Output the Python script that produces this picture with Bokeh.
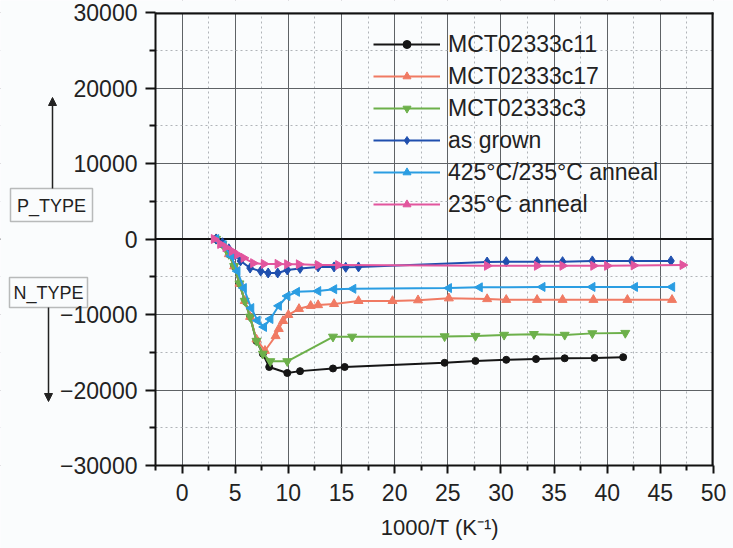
from bokeh.plotting import figure
from bokeh.models import (Range1d, FixedTicker, Span, Label, Arrow, NormalHead, Legend, LegendItem,
                          BoxAnnotation, ColumnDataSource, Scatter)
from bokeh.embed import file_html
from bokeh.resources import INLINE
import math

# ---------------- data ----------------
c11_x = [3.2, 3.8, 4.4, 4.9, 5.4, 5.9, 6.4, 7.0, 7.6, 8.2, 9.9, 11.1, 14.2, 15.3, 24.7, 27.6, 30.5, 33.3, 36.0, 38.8, 41.5]
c11_y = [0, -700, -2000, -3600, -5900, -8200, -10300, -13500, -15200, -16950, -17750, -17500, -17150, -16950,
         -16400, -16150, -16000, -15900, -15800, -15750, -15650]

c17_x = [3.2, 3.8, 4.4, 4.9, 5.4, 5.9, 6.4, 7.0, 7.8, 8.8, 9.1, 9.5, 10.0, 11.0, 12.1, 12.8, 14.3, 16.6, 19.8,
         22.2, 25.1, 28.7, 30.5, 33.4, 35.8, 38.7, 41.9, 46.1]
c17_y = [0, -700, -2000, -3600, -5900, -8200, -10300, -13300, -14800, -12850, -11900, -10850, -10050, -9250,
         -8850, -8750, -8600, -8200, -8200, -8100, -7850, -7950, -8050, -8050, -8050, -8050, -8050, -8050]

c3_x = [3.2, 3.8, 4.4, 4.9, 5.4, 5.9, 6.4, 7.0, 7.6, 8.3, 9.9, 14.2, 16.0, 24.7, 27.6, 30.3, 33.1, 36.0, 38.6, 41.7]
c3_y = [0, -700, -2000, -3600, -5900, -8200, -10300, -13500, -15200, -16200, -16200, -12950, -12950, -12900,
        -12850, -12700, -12600, -12700, -12500, -12450]

grown_x = [3.2, 3.8, 4.4, 5.0, 5.5, 6.4, 7.4, 8.1, 9.0, 9.9, 11.1, 12.8, 14.3, 15.4, 16.6, 28.7, 30.5, 33.4,
           35.8, 38.6, 42.3, 46.0]
grown_y = [0, -500, -1300, -2100, -2900, -3850, -4250, -4500, -4500, -4100, -3900, -3700, -3700, -3750, -3700,
           -3050, -3000, -3000, -3000, -2900, -2900, -2900]

a425_x = [3.2, 3.9, 4.6, 5.2, 5.8, 6.5, 7.1, 7.7, 8.3, 9.1, 9.9, 10.8, 12.8, 14.3, 16.1, 25.1, 28.0, 33.9, 38.6,
          42.6, 46.1]
a425_y = [0, -800, -2250, -4250, -6500, -9150, -10800, -11650, -10600, -8850, -7550, -7000, -6900, -6650, -6600,
          -6500, -6400, -6350, -6350, -6350, -6350]

a235_x = [3.0, 3.6, 4.1, 4.7, 5.2, 5.8, 6.7, 7.7, 9.0, 9.9, 11.0, 12.8, 14.7, 28.7, 33.4, 35.8, 38.7, 40.0, 42.5, 47.1]
a235_y = [0, -660, -1100, -1600, -2050, -2500, -3200, -3300, -3300, -3350, -3350, -3450, -3450, -3550, -3550,
          -3550, -3550, -3550, -3500, -3450]

series_names = ["MCT02333c11", "MCT02333c17", "MCT02333c3", "as grown", "425°C/235°C anneal", "235°C anneal"]

x_ticks = [0, 5, 10, 15, 20, 25, 30, 35, 40, 45, 50]
x_minor = [-2.5, 2.5, 7.5, 12.5, 17.5, 22.5, 27.5, 32.5, 37.5, 42.5, 47.5]
y_ticks = [-30000, -20000, -10000, 0, 10000, 20000, 30000]
y_minor = [-25000, -15000, -5000, 5000, 15000, 25000]

x_lim = (-2.5, 50)
y_lim = (-30000, 30000)

x_label = "1000/T (K\u207b\u00b9)"

# ---------------- layout constants (pixels) ----------------
W, H = 733, 548
BOX_L, BOX_R, BOX_T, BOX_B = 155, 713, 12, 465   # canvas edges of the plotting box
FONT = "Liberation Sans"
BG = "#fafcfd"
INK = "#222222"

# the frame spans the whole canvas; the axes are pinned at the box edges
xs_per_px = (x_lim[1] - x_lim[0]) / (BOX_R - BOX_L)
ys_per_px = (y_lim[1] - y_lim[0]) / (BOX_B - BOX_T)
x_range = Range1d(x_lim[0] - BOX_L * xs_per_px, x_lim[1] + (W - BOX_R) * xs_per_px)
y_range = Range1d(y_lim[0] - (H - BOX_B) * ys_per_px, y_lim[1] + BOX_T * ys_per_px)

p = figure(width=W, height=H, output_backend="svg", toolbar_location=None,
           x_range=x_range, y_range=y_range,
           min_border_left=0, min_border_right=0, min_border_top=0, min_border_bottom=0)
p.background_fill_color = BG
p.border_fill_color = BG
p.outline_line_color = None

p.xaxis.ticker = FixedTicker(ticks=x_ticks, minor_ticks=x_minor)
p.yaxis.ticker = FixedTicker(ticks=y_ticks, minor_ticks=y_minor)
p.xaxis.fixed_location = y_lim[0]
p.yaxis.fixed_location = x_lim[0]
p.xaxis.bounds = x_lim
p.yaxis.bounds = y_lim
for ax in (p.xaxis[0], p.yaxis[0]):
    ax.axis_line_color = "#111111"
    ax.axis_line_width = 2
    ax.major_tick_in = 0
    ax.minor_tick_in = 0
    ax.major_tick_line_width = 2
    ax.minor_tick_line_width = 2
    ax.major_tick_line_color = "#111111"
    ax.minor_tick_line_color = "#111111"
    ax.major_label_text_font = FONT
    ax.major_label_text_font_size = "23px"
    ax.major_label_text_color = INK
p.xaxis.major_tick_out = 8
p.xaxis.minor_tick_out = 5
p.yaxis.major_tick_out = 10
p.yaxis.minor_tick_out = 6
p.xaxis.major_label_standoff = 10
p.yaxis.major_label_standoff = 8

p.xgrid.ticker = FixedTicker(ticks=x_ticks, minor_ticks=x_minor)
p.ygrid.ticker = FixedTicker(ticks=y_ticks, minor_ticks=y_minor)
for g in (p.xgrid[0], p.ygrid[0]):
    g.grid_line_color = "#5e6266"
    g.grid_line_width = 1
    g.minor_grid_line_color = "#b0b4b8"
    g.minor_grid_line_dash = "2 3"
    g.minor_grid_line_width = 1

# zero line, then covers that hide grid / zero line outside the plotting box
p.add_layout(Span(location=0, dimension="width", line_color="#111111", line_width=2, level="underlay"))
for kw in (dict(right=x_lim[0]), dict(left=x_lim[1]), dict(top=y_lim[0]), dict(bottom=y_lim[1])):
    p.add_layout(BoxAnnotation(fill_color=BG, fill_alpha=1, line_alpha=0, level="underlay", **kw))


def sy(canvas_y):
    return H - canvas_y


# top and right border of the plotting box (2px strips)
p.add_layout(BoxAnnotation(left=x_lim[0], right=x_lim[1], top=y_lim[1], bottom=sy(BOX_T + 2), bottom_units="screen",
                           fill_color="#111111", fill_alpha=1, line_alpha=0))
p.add_layout(BoxAnnotation(left=BOX_R - 2, left_units="screen", right=x_lim[1], bottom=y_lim[0], top=y_lim[1],
                           fill_color="#111111", fill_alpha=1, line_alpha=0))

styles = [
    (c11_x, c11_y, "#151515", "circle", 0.0, 7),
    (c17_x, c17_y, "#f07a63", "triangle", 0.0, 9),
    (c3_x, c3_y, "#6cb04a", "inverted_triangle", 0.0, 9),
    (grown_x, grown_y, "#1f4fae", "diamond", 0.0, 10),
    (a425_x, a425_y, "#2a9de2", "triangle", math.pi / 2, 9),
    (a235_x, a235_y, "#e2559e", "triangle", -math.pi / 2, 9),
]

items = []
for (xs, ys, col, mk, ang, sz), name in zip(styles, series_names):
    src = ColumnDataSource(dict(x=xs, y=ys, a=[ang] * len(xs)))
    r1 = p.line("x", "y", source=src, line_color=col, line_width=2)
    r2 = p.add_glyph(src, Scatter(x="x", y="y", marker=mk, angle="a", size=sz,
                                  fill_color=col, line_color=col))
    items.append(LegendItem(label=name, renderers=[r1, r2]))

# legend: top-left corner at canvas (373, 28); location is its bottom-left, frame-relative
legend = Legend(items=items, location=(373, sy(28 + 6 * 32)), orientation="vertical",
                label_text_font=FONT, label_text_font_size="23px", label_text_color=INK,
                glyph_width=67, glyph_height=20, label_standoff=8, spacing=0, label_height=32,
                padding=0, margin=0, border_line_alpha=0, background_fill_alpha=0)
p.add_layout(legend)

# x axis title
p.add_layout(Label(x=(x_lim[0] + x_lim[1]) / 2 + 0.5, y=sy(527), y_units="screen", text=x_label,
                   text_font=FONT, text_font_size="22px", text_color=INK,
                   text_align="center", text_baseline="middle"))

# P_TYPE / N_TYPE boxes, texts and arrows
p.add_layout(BoxAnnotation(left=10, right=92, top=sy(188), bottom=sy(221),
                           left_units="screen", right_units="screen", top_units="screen", bottom_units="screen",
                           fill_alpha=0, line_color=INK, line_width=1.5))
p.add_layout(BoxAnnotation(left=9, right=87, top=sy(277), bottom=sy(307),
                           left_units="screen", right_units="screen", top_units="screen", bottom_units="screen",
                           fill_alpha=0, line_color=INK, line_width=1.5))
p.add_layout(Label(x=51, y=sy(205), x_units="screen", y_units="screen", text="P_TYPE",
                   text_font=FONT, text_font_size="18px", text_color=INK,
                   text_align="center", text_baseline="middle"))
p.add_layout(Label(x=48, y=sy(292), x_units="screen", y_units="screen", text="N_TYPE",
                   text_font=FONT, text_font_size="18px", text_color=INK,
                   text_align="center", text_baseline="middle"))
p.add_layout(Arrow(end=NormalHead(size=8, fill_color=INK, line_color=INK, line_width=1),
                   x_start=52, y_start=sy(188), x_end=52, y_end=sy(97),
                   start_units="screen", end_units="screen", line_color=INK, line_width=1.5))
p.add_layout(Arrow(end=NormalHead(size=8, fill_color=INK, line_color=INK, line_width=1),
                   x_start=48, y_start=sy(307), x_end=48, y_end=sy(401),
                   start_units="screen", end_units="screen", line_color=INK, line_width=1.5))

open("out.html", "w").write(file_html(p, INLINE))
